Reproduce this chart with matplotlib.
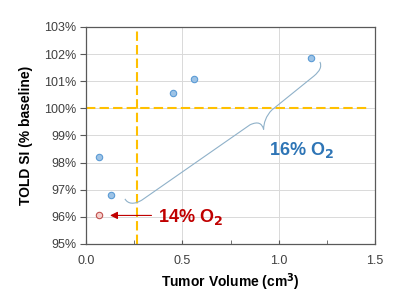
import matplotlib
matplotlib.use("Agg")
import matplotlib.pyplot as plt
from matplotlib.path import Path
from matplotlib.patches import PathPatch
from matplotlib.ticker import MultipleLocator, FuncFormatter

plt.rcParams['font.family'] = ['Liberation Sans', 'DejaVu Sans']

# 16% O2 points
vol_16 = [0.07, 0.13, 0.45, 0.56, 1.17]
si_16 = [98.2, 96.8, 100.55, 101.07, 101.85]
# 14% O2 point
vol_14 = [0.07]
si_14 = [96.05]

# threshold lines
vol_cut = 0.265
si_base = 100.0

fig = plt.figure(figsize=(4.0, 2.96), dpi=100)
ax = fig.add_axes([0.215, 0.176, 0.7225, 0.733])

ax.set_xlim(0, 1.5)
ax.set_ylim(95, 103)
ax.xaxis.set_major_locator(MultipleLocator(0.5))
ax.xaxis.set_minor_locator(MultipleLocator(0.25))
ax.yaxis.set_major_locator(MultipleLocator(1))
ax.xaxis.set_major_formatter(FuncFormatter(lambda v, p: f"{v:.1f}"))
ax.yaxis.set_major_formatter(FuncFormatter(lambda v, p: f"{v:.0f}%"))

ax.grid(True, which='major', color='#d9d9d9', linewidth=0.7, zorder=0)
for s in ax.spines.values():
    s.set_color('#595959')
    s.set_linewidth(0.9)
ax.tick_params(axis='x', which='both', direction='in', length=3, color='#595959',
               labelsize=9, labelcolor='#404040', pad=8)
ax.tick_params(axis='y', direction='out', length=4, color='#595959',
               labelsize=9, labelcolor='#404040', pad=3)

# orange dashed cut lines
ax.plot([0, 1.474], [si_base, si_base], color='#ffc000', lw=1.5, dashes=(4.5, 2), zorder=2)
ax.plot([vol_cut, vol_cut], [95, 103], color='#ffc000', lw=1.5, dashes=(4.5, 2), zorder=2,
        clip_on=False)

ax.plot(vol_16, si_16, 'o', ms=4.6, mfc='#9dc3e6', mec='#5b9bd5', mew=0.8, zorder=4)
ax.plot(vol_14, si_14, 'o', ms=4.6, mfc='#f6d0cc', mec='#c0504d', mew=0.8, zorder=4)

# curly brace around 16% O2 points
verts = [(0.202, 96.66),
         (0.218, 96.47), (0.249, 96.44), (0.291, 96.62),
         (0.851, 99.39),
         (0.893, 99.53), (0.913, 99.45), (0.922, 99.22),
         (0.922, 99.45), (0.934, 99.72), (0.965, 99.94),
         (1.183, 101.19),
         (1.214, 101.38), (1.225, 101.53), (1.214, 101.71)]
codes = [Path.MOVETO,
         Path.CURVE4, Path.CURVE4, Path.CURVE4,
         Path.LINETO,
         Path.CURVE4, Path.CURVE4, Path.CURVE4,
         Path.CURVE4, Path.CURVE4, Path.CURVE4,
         Path.LINETO,
         Path.CURVE4, Path.CURVE4, Path.CURVE4]
ax.add_patch(PathPatch(Path(verts, codes), fill=False, edgecolor='#8fb1c9', lw=0.8, zorder=3))

ax.text(1.12, 98.45, r'16% O$_\mathbf{2}$', color='#2e75b6', fontsize=13, fontweight='bold',
        ha='center', va='center', zorder=5)
ax.text(0.54, 96.0, r'14% O$_\mathbf{2}$', color='#c00000', fontsize=13, fontweight='bold',
        ha='center', va='center', zorder=5)
ax.annotate('', xy=(0.125, 96.05), xytext=(0.34, 96.05),
            arrowprops=dict(arrowstyle='-|>', color='#c00000', lw=0.8,
                            mutation_scale=11, shrinkA=0, shrinkB=0), zorder=5)

ax.set_xlabel('Tumor Volume (cm$^\\mathbf{3}$)', fontsize=10, fontweight='bold', labelpad=3)
ax.set_ylabel('TOLD SI (% baseline)', fontsize=10, fontweight='bold', labelpad=8)

fig.savefig('out.png', dpi=100)
